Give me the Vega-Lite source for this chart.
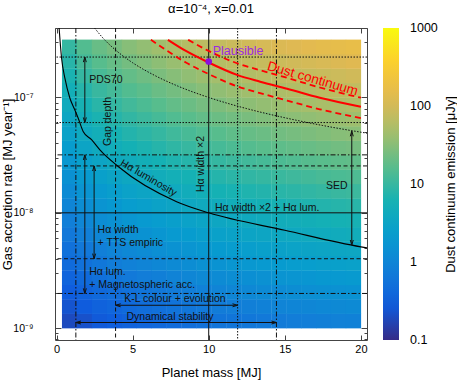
{
"$schema": "https://vega.github.io/schema/vega-lite/v6.json",
"width": 312, "height": 312,
"autosize": "none",
"padding": {"left": 55, "top": 28, "right": 90, "bottom": 46},
"title": {"text": "α=10⁻⁴, x=0.01", "fontSize": 13, "fontWeight": "normal", "font": "Liberation Sans", "offset": 7, "frame": "group", "anchor": "middle", "color": "#000"},
"config": {
  "font": "Liberation Sans",
  "view": {"stroke": "#444", "strokeWidth": 1},
  "axis": {"domain": false, "grid": false, "labelFontSize": 11, "titleFontSize": 13, "titleFontWeight": "normal", "labelColor": "#000", "titleColor": "#000", "tickColor": "#444", "tickWidth": 1, "labelFlush": false, "labelOverlap": false}
},
"datasets": {
"cells": [
{"m":0.86,"r":1.155e-9,"f":-0.72},{"m":0.86,"r":1.54e-9,"f":-0.63},{"m":0.86,"r":2.054e-9,"f":-0.54},{"m":0.86,"r":2.738e-9,"f":-0.45},{"m":0.86,"r":3.652e-9,"f":-0.36},{"m":0.86,"r":4.87e-9,"f":-0.27},{"m":0.86,"r":6.494e-9,"f":-0.18},{"m":0.86,"r":8.66e-9,"f":-0.09},{"m":0.86,"r":1.155e-8,"f":0},{"m":0.86,"r":1.54e-8,"f":0.09},{"m":0.86,"r":2.054e-8,"f":0.18},{"m":0.86,"r":2.738e-8,"f":0.27},{"m":0.86,"r":3.652e-8,"f":0.36},{"m":0.86,"r":4.87e-8,"f":0.45},{"m":0.86,"r":6.494e-8,"f":0.54},{"m":0.86,"r":8.66e-8,"f":0.63},{"m":0.86,"r":1.155e-7,"f":0.72},{"m":0.86,"r":1.54e-7,"f":0.81},{"m":0.86,"r":2.054e-7,"f":0.9},{"m":0.86,"r":2.738e-7,"f":0.99},
{"m":1.84,"r":1.155e-9,"f":-0.66},{"m":1.84,"r":1.54e-9,"f":-0.56},{"m":1.84,"r":2.054e-9,"f":-0.47},{"m":1.84,"r":2.738e-9,"f":-0.37},{"m":1.84,"r":3.652e-9,"f":-0.27},{"m":1.84,"r":4.87e-9,"f":-0.18},{"m":1.84,"r":6.494e-9,"f":-0.08},{"m":1.84,"r":8.66e-9,"f":0.02},{"m":1.84,"r":1.155e-8,"f":0.11},{"m":1.84,"r":1.54e-8,"f":0.21},{"m":1.84,"r":2.054e-8,"f":0.31},{"m":1.84,"r":2.738e-8,"f":0.41},{"m":1.84,"r":3.652e-8,"f":0.5},{"m":1.84,"r":4.87e-8,"f":0.6},{"m":1.84,"r":6.494e-8,"f":0.7},{"m":1.84,"r":8.66e-8,"f":0.79},{"m":1.84,"r":1.155e-7,"f":0.89},{"m":1.84,"r":1.54e-7,"f":0.99},{"m":1.84,"r":2.054e-7,"f":1.09},{"m":1.84,"r":2.738e-7,"f":1.18},
{"m":2.82,"r":1.155e-9,"f":-0.58},{"m":2.82,"r":1.54e-9,"f":-0.48},{"m":2.82,"r":2.054e-9,"f":-0.39},{"m":2.82,"r":2.738e-9,"f":-0.29},{"m":2.82,"r":3.652e-9,"f":-0.19},{"m":2.82,"r":4.87e-9,"f":-0.09},{"m":2.82,"r":6.494e-9,"f":0.01},{"m":2.82,"r":8.66e-9,"f":0.11},{"m":2.82,"r":1.155e-8,"f":0.21},{"m":2.82,"r":1.54e-8,"f":0.31},{"m":2.82,"r":2.054e-8,"f":0.41},{"m":2.82,"r":2.738e-8,"f":0.51},{"m":2.82,"r":3.652e-8,"f":0.61},{"m":2.82,"r":4.87e-8,"f":0.71},{"m":2.82,"r":6.494e-8,"f":0.81},{"m":2.82,"r":8.66e-8,"f":0.91},{"m":2.82,"r":1.155e-7,"f":1.01},{"m":2.82,"r":1.54e-7,"f":1.11},{"m":2.82,"r":2.054e-7,"f":1.21},{"m":2.82,"r":2.738e-7,"f":1.31},
{"m":3.81,"r":1.155e-9,"f":-0.53},{"m":3.81,"r":1.54e-9,"f":-0.43},{"m":3.81,"r":2.054e-9,"f":-0.33},{"m":3.81,"r":2.738e-9,"f":-0.22},{"m":3.81,"r":3.652e-9,"f":-0.12},{"m":3.81,"r":4.87e-9,"f":-0.02},{"m":3.81,"r":6.494e-9,"f":0.08},{"m":3.81,"r":8.66e-9,"f":0.18},{"m":3.81,"r":1.155e-8,"f":0.28},{"m":3.81,"r":1.54e-8,"f":0.38},{"m":3.81,"r":2.054e-8,"f":0.49},{"m":3.81,"r":2.738e-8,"f":0.59},{"m":3.81,"r":3.652e-8,"f":0.69},{"m":3.81,"r":4.87e-8,"f":0.79},{"m":3.81,"r":6.494e-8,"f":0.89},{"m":3.81,"r":8.66e-8,"f":0.99},{"m":3.81,"r":1.155e-7,"f":1.09},{"m":3.81,"r":1.54e-7,"f":1.2},{"m":3.81,"r":2.054e-7,"f":1.3},{"m":3.81,"r":2.738e-7,"f":1.4},
{"m":4.79,"r":1.155e-9,"f":-0.48},{"m":4.79,"r":1.54e-9,"f":-0.37},{"m":4.79,"r":2.054e-9,"f":-0.27},{"m":4.79,"r":2.738e-9,"f":-0.17},{"m":4.79,"r":3.652e-9,"f":-0.06},{"m":4.79,"r":4.87e-9,"f":0.04},{"m":4.79,"r":6.494e-9,"f":0.14},{"m":4.79,"r":8.66e-9,"f":0.25},{"m":4.79,"r":1.155e-8,"f":0.35},{"m":4.79,"r":1.54e-8,"f":0.45},{"m":4.79,"r":2.054e-8,"f":0.56},{"m":4.79,"r":2.738e-8,"f":0.66},{"m":4.79,"r":3.652e-8,"f":0.76},{"m":4.79,"r":4.87e-8,"f":0.87},{"m":4.79,"r":6.494e-8,"f":0.97},{"m":4.79,"r":8.66e-8,"f":1.07},{"m":4.79,"r":1.155e-7,"f":1.18},{"m":4.79,"r":1.54e-7,"f":1.28},{"m":4.79,"r":2.054e-7,"f":1.38},{"m":4.79,"r":2.738e-7,"f":1.49},
{"m":5.77,"r":1.155e-9,"f":-0.44},{"m":5.77,"r":1.54e-9,"f":-0.33},{"m":5.77,"r":2.054e-9,"f":-0.23},{"m":5.77,"r":2.738e-9,"f":-0.12},{"m":5.77,"r":3.652e-9,"f":-0.02},{"m":5.77,"r":4.87e-9,"f":0.09},{"m":5.77,"r":6.494e-9,"f":0.19},{"m":5.77,"r":8.66e-9,"f":0.3},{"m":5.77,"r":1.155e-8,"f":0.4},{"m":5.77,"r":1.54e-8,"f":0.51},{"m":5.77,"r":2.054e-8,"f":0.61},{"m":5.77,"r":2.738e-8,"f":0.72},{"m":5.77,"r":3.652e-8,"f":0.82},{"m":5.77,"r":4.87e-8,"f":0.93},{"m":5.77,"r":6.494e-8,"f":1.03},{"m":5.77,"r":8.66e-8,"f":1.14},{"m":5.77,"r":1.155e-7,"f":1.24},{"m":5.77,"r":1.54e-7,"f":1.35},{"m":5.77,"r":2.054e-7,"f":1.45},{"m":5.77,"r":2.738e-7,"f":1.56},
{"m":6.75,"r":1.155e-9,"f":-0.4},{"m":6.75,"r":1.54e-9,"f":-0.29},{"m":6.75,"r":2.054e-9,"f":-0.18},{"m":6.75,"r":2.738e-9,"f":-0.08},{"m":6.75,"r":3.652e-9,"f":0.03},{"m":6.75,"r":4.87e-9,"f":0.14},{"m":6.75,"r":6.494e-9,"f":0.25},{"m":6.75,"r":8.66e-9,"f":0.35},{"m":6.75,"r":1.155e-8,"f":0.46},{"m":6.75,"r":1.54e-8,"f":0.57},{"m":6.75,"r":2.054e-8,"f":0.67},{"m":6.75,"r":2.738e-8,"f":0.78},{"m":6.75,"r":3.652e-8,"f":0.89},{"m":6.75,"r":4.87e-8,"f":0.99},{"m":6.75,"r":6.494e-8,"f":1.1},{"m":6.75,"r":8.66e-8,"f":1.21},{"m":6.75,"r":1.155e-7,"f":1.32},{"m":6.75,"r":1.54e-7,"f":1.42},{"m":6.75,"r":2.054e-7,"f":1.53},{"m":6.75,"r":2.738e-7,"f":1.64},
{"m":7.73,"r":1.155e-9,"f":-0.36},{"m":7.73,"r":1.54e-9,"f":-0.25},{"m":7.73,"r":2.054e-9,"f":-0.14},{"m":7.73,"r":2.738e-9,"f":-0.03},{"m":7.73,"r":3.652e-9,"f":0.08},{"m":7.73,"r":4.87e-9,"f":0.19},{"m":7.73,"r":6.494e-9,"f":0.3},{"m":7.73,"r":8.66e-9,"f":0.4},{"m":7.73,"r":1.155e-8,"f":0.51},{"m":7.73,"r":1.54e-8,"f":0.62},{"m":7.73,"r":2.054e-8,"f":0.73},{"m":7.73,"r":2.738e-8,"f":0.84},{"m":7.73,"r":3.652e-8,"f":0.95},{"m":7.73,"r":4.87e-8,"f":1.06},{"m":7.73,"r":6.494e-8,"f":1.17},{"m":7.73,"r":8.66e-8,"f":1.28},{"m":7.73,"r":1.155e-7,"f":1.38},{"m":7.73,"r":1.54e-7,"f":1.49},{"m":7.73,"r":2.054e-7,"f":1.6},{"m":7.73,"r":2.738e-7,"f":1.71},
{"m":8.72,"r":1.155e-9,"f":-0.32},{"m":8.72,"r":1.54e-9,"f":-0.21},{"m":8.72,"r":2.054e-9,"f":-0.1},{"m":8.72,"r":2.738e-9,"f":0.01},{"m":8.72,"r":3.652e-9,"f":0.12},{"m":8.72,"r":4.87e-9,"f":0.23},{"m":8.72,"r":6.494e-9,"f":0.34},{"m":8.72,"r":8.66e-9,"f":0.45},{"m":8.72,"r":1.155e-8,"f":0.56},{"m":8.72,"r":1.54e-8,"f":0.67},{"m":8.72,"r":2.054e-8,"f":0.78},{"m":8.72,"r":2.738e-8,"f":0.89},{"m":8.72,"r":3.652e-8,"f":1.0},{"m":8.72,"r":4.87e-8,"f":1.11},{"m":8.72,"r":6.494e-8,"f":1.22},{"m":8.72,"r":8.66e-8,"f":1.33},{"m":8.72,"r":1.155e-7,"f":1.44},{"m":8.72,"r":1.54e-7,"f":1.55},{"m":8.72,"r":2.054e-7,"f":1.66},{"m":8.72,"r":2.738e-7,"f":1.77},
{"m":9.7,"r":1.155e-9,"f":-0.28},{"m":9.7,"r":1.54e-9,"f":-0.17},{"m":9.7,"r":2.054e-9,"f":-0.05},{"m":9.7,"r":2.738e-9,"f":0.06},{"m":9.7,"r":3.652e-9,"f":0.17},{"m":9.7,"r":4.87e-9,"f":0.28},{"m":9.7,"r":6.494e-9,"f":0.39},{"m":9.7,"r":8.66e-9,"f":0.5},{"m":9.7,"r":1.155e-8,"f":0.61},{"m":9.7,"r":1.54e-8,"f":0.72},{"m":9.7,"r":2.054e-8,"f":0.83},{"m":9.7,"r":2.738e-8,"f":0.95},{"m":9.7,"r":3.652e-8,"f":1.06},{"m":9.7,"r":4.87e-8,"f":1.17},{"m":9.7,"r":6.494e-8,"f":1.28},{"m":9.7,"r":8.66e-8,"f":1.39},{"m":9.7,"r":1.155e-7,"f":1.5},{"m":9.7,"r":1.54e-7,"f":1.61},{"m":9.7,"r":2.054e-7,"f":1.72},{"m":9.7,"r":2.738e-7,"f":1.83},
{"m":10.68,"r":1.155e-9,"f":-0.24},{"m":10.68,"r":1.54e-9,"f":-0.13},{"m":10.68,"r":2.054e-9,"f":-0.02},{"m":10.68,"r":2.738e-9,"f":0.09},{"m":10.68,"r":3.652e-9,"f":0.2},{"m":10.68,"r":4.87e-9,"f":0.32},{"m":10.68,"r":6.494e-9,"f":0.43},{"m":10.68,"r":8.66e-9,"f":0.54},{"m":10.68,"r":1.155e-8,"f":0.65},{"m":10.68,"r":1.54e-8,"f":0.77},{"m":10.68,"r":2.054e-8,"f":0.88},{"m":10.68,"r":2.738e-8,"f":0.99},{"m":10.68,"r":3.652e-8,"f":1.1},{"m":10.68,"r":4.87e-8,"f":1.21},{"m":10.68,"r":6.494e-8,"f":1.33},{"m":10.68,"r":8.66e-8,"f":1.44},{"m":10.68,"r":1.155e-7,"f":1.55},{"m":10.68,"r":1.54e-7,"f":1.66},{"m":10.68,"r":2.054e-7,"f":1.78},{"m":10.68,"r":2.738e-7,"f":1.89},
{"m":11.66,"r":1.155e-9,"f":-0.22},{"m":11.66,"r":1.54e-9,"f":-0.1},{"m":11.66,"r":2.054e-9,"f":0.01},{"m":11.66,"r":2.738e-9,"f":0.12},{"m":11.66,"r":3.652e-9,"f":0.24},{"m":11.66,"r":4.87e-9,"f":0.35},{"m":11.66,"r":6.494e-9,"f":0.46},{"m":11.66,"r":8.66e-9,"f":0.58},{"m":11.66,"r":1.155e-8,"f":0.69},{"m":11.66,"r":1.54e-8,"f":0.8},{"m":11.66,"r":2.054e-8,"f":0.92},{"m":11.66,"r":2.738e-8,"f":1.03},{"m":11.66,"r":3.652e-8,"f":1.14},{"m":11.66,"r":4.87e-8,"f":1.26},{"m":11.66,"r":6.494e-8,"f":1.37},{"m":11.66,"r":8.66e-8,"f":1.49},{"m":11.66,"r":1.155e-7,"f":1.6},{"m":11.66,"r":1.54e-7,"f":1.71},{"m":11.66,"r":2.054e-7,"f":1.83},{"m":11.66,"r":2.738e-7,"f":1.94},
{"m":12.64,"r":1.155e-9,"f":-0.19},{"m":12.64,"r":1.54e-9,"f":-0.08},{"m":12.64,"r":2.054e-9,"f":0.04},{"m":12.64,"r":2.738e-9,"f":0.15},{"m":12.64,"r":3.652e-9,"f":0.27},{"m":12.64,"r":4.87e-9,"f":0.38},{"m":12.64,"r":6.494e-9,"f":0.5},{"m":12.64,"r":8.66e-9,"f":0.61},{"m":12.64,"r":1.155e-8,"f":0.73},{"m":12.64,"r":1.54e-8,"f":0.84},{"m":12.64,"r":2.054e-8,"f":0.96},{"m":12.64,"r":2.738e-8,"f":1.07},{"m":12.64,"r":3.652e-8,"f":1.19},{"m":12.64,"r":4.87e-8,"f":1.3},{"m":12.64,"r":6.494e-8,"f":1.41},{"m":12.64,"r":8.66e-8,"f":1.53},{"m":12.64,"r":1.155e-7,"f":1.64},{"m":12.64,"r":1.54e-7,"f":1.76},{"m":12.64,"r":2.054e-7,"f":1.87},{"m":12.64,"r":2.738e-7,"f":1.99},
{"m":13.62,"r":1.155e-9,"f":-0.17},{"m":13.62,"r":1.54e-9,"f":-0.05},{"m":13.62,"r":2.054e-9,"f":0.07},{"m":13.62,"r":2.738e-9,"f":0.18},{"m":13.62,"r":3.652e-9,"f":0.3},{"m":13.62,"r":4.87e-9,"f":0.41},{"m":13.62,"r":6.494e-9,"f":0.53},{"m":13.62,"r":8.66e-9,"f":0.64},{"m":13.62,"r":1.155e-8,"f":0.76},{"m":13.62,"r":1.54e-8,"f":0.87},{"m":13.62,"r":2.054e-8,"f":0.99},{"m":13.62,"r":2.738e-8,"f":1.1},{"m":13.62,"r":3.652e-8,"f":1.22},{"m":13.62,"r":4.87e-8,"f":1.33},{"m":13.62,"r":6.494e-8,"f":1.45},{"m":13.62,"r":8.66e-8,"f":1.57},{"m":13.62,"r":1.155e-7,"f":1.68},{"m":13.62,"r":1.54e-7,"f":1.8},{"m":13.62,"r":2.054e-7,"f":1.91},{"m":13.62,"r":2.738e-7,"f":2.03},
{"m":14.61,"r":1.155e-9,"f":-0.14},{"m":14.61,"r":1.54e-9,"f":-0.02},{"m":14.61,"r":2.054e-9,"f":0.09},{"m":14.61,"r":2.738e-9,"f":0.21},{"m":14.61,"r":3.652e-9,"f":0.32},{"m":14.61,"r":4.87e-9,"f":0.44},{"m":14.61,"r":6.494e-9,"f":0.56},{"m":14.61,"r":8.66e-9,"f":0.67},{"m":14.61,"r":1.155e-8,"f":0.79},{"m":14.61,"r":1.54e-8,"f":0.91},{"m":14.61,"r":2.054e-8,"f":1.02},{"m":14.61,"r":2.738e-8,"f":1.14},{"m":14.61,"r":3.652e-8,"f":1.25},{"m":14.61,"r":4.87e-8,"f":1.37},{"m":14.61,"r":6.494e-8,"f":1.49},{"m":14.61,"r":8.66e-8,"f":1.6},{"m":14.61,"r":1.155e-7,"f":1.72},{"m":14.61,"r":1.54e-7,"f":1.84},{"m":14.61,"r":2.054e-7,"f":1.95},{"m":14.61,"r":2.738e-7,"f":2.07},
{"m":15.59,"r":1.155e-9,"f":-0.12},{"m":15.59,"r":1.54e-9,"f":0},{"m":15.59,"r":2.054e-9,"f":0.11},{"m":15.59,"r":2.738e-9,"f":0.23},{"m":15.59,"r":3.652e-9,"f":0.35},{"m":15.59,"r":4.87e-9,"f":0.47},{"m":15.59,"r":6.494e-9,"f":0.58},{"m":15.59,"r":8.66e-9,"f":0.7},{"m":15.59,"r":1.155e-8,"f":0.82},{"m":15.59,"r":1.54e-8,"f":0.93},{"m":15.59,"r":2.054e-8,"f":1.05},{"m":15.59,"r":2.738e-8,"f":1.17},{"m":15.59,"r":3.652e-8,"f":1.28},{"m":15.59,"r":4.87e-8,"f":1.4},{"m":15.59,"r":6.494e-8,"f":1.52},{"m":15.59,"r":8.66e-8,"f":1.64},{"m":15.59,"r":1.155e-7,"f":1.75},{"m":15.59,"r":1.54e-7,"f":1.87},{"m":15.59,"r":2.054e-7,"f":1.99},{"m":15.59,"r":2.738e-7,"f":2.1},
{"m":16.57,"r":1.155e-9,"f":-0.1},{"m":16.57,"r":1.54e-9,"f":0.02},{"m":16.57,"r":2.054e-9,"f":0.14},{"m":16.57,"r":2.738e-9,"f":0.25},{"m":16.57,"r":3.652e-9,"f":0.37},{"m":16.57,"r":4.87e-9,"f":0.49},{"m":16.57,"r":6.494e-9,"f":0.61},{"m":16.57,"r":8.66e-9,"f":0.72},{"m":16.57,"r":1.155e-8,"f":0.84},{"m":16.57,"r":1.54e-8,"f":0.96},{"m":16.57,"r":2.054e-8,"f":1.08},{"m":16.57,"r":2.738e-8,"f":1.2},{"m":16.57,"r":3.652e-8,"f":1.31},{"m":16.57,"r":4.87e-8,"f":1.43},{"m":16.57,"r":6.494e-8,"f":1.55},{"m":16.57,"r":8.66e-8,"f":1.67},{"m":16.57,"r":1.155e-7,"f":1.78},{"m":16.57,"r":1.54e-7,"f":1.9},{"m":16.57,"r":2.054e-7,"f":2.02},{"m":16.57,"r":2.738e-7,"f":2.14},
{"m":17.55,"r":1.155e-9,"f":-0.08},{"m":17.55,"r":1.54e-9,"f":0.04},{"m":17.55,"r":2.054e-9,"f":0.16},{"m":17.55,"r":2.738e-9,"f":0.28},{"m":17.55,"r":3.652e-9,"f":0.39},{"m":17.55,"r":4.87e-9,"f":0.51},{"m":17.55,"r":6.494e-9,"f":0.63},{"m":17.55,"r":8.66e-9,"f":0.75},{"m":17.55,"r":1.155e-8,"f":0.87},{"m":17.55,"r":1.54e-8,"f":0.99},{"m":17.55,"r":2.054e-8,"f":1.11},{"m":17.55,"r":2.738e-8,"f":1.22},{"m":17.55,"r":3.652e-8,"f":1.34},{"m":17.55,"r":4.87e-8,"f":1.46},{"m":17.55,"r":6.494e-8,"f":1.58},{"m":17.55,"r":8.66e-8,"f":1.7},{"m":17.55,"r":1.155e-7,"f":1.82},{"m":17.55,"r":1.54e-7,"f":1.93},{"m":17.55,"r":2.054e-7,"f":2.05},{"m":17.55,"r":2.738e-7,"f":2.17},
{"m":18.53,"r":1.155e-9,"f":-0.06},{"m":18.53,"r":1.54e-9,"f":0.06},{"m":18.53,"r":2.054e-9,"f":0.17},{"m":18.53,"r":2.738e-9,"f":0.29},{"m":18.53,"r":3.652e-9,"f":0.41},{"m":18.53,"r":4.87e-9,"f":0.53},{"m":18.53,"r":6.494e-9,"f":0.65},{"m":18.53,"r":8.66e-9,"f":0.77},{"m":18.53,"r":1.155e-8,"f":0.89},{"m":18.53,"r":1.54e-8,"f":1.01},{"m":18.53,"r":2.054e-8,"f":1.13},{"m":18.53,"r":2.738e-8,"f":1.25},{"m":18.53,"r":3.652e-8,"f":1.37},{"m":18.53,"r":4.87e-8,"f":1.49},{"m":18.53,"r":6.494e-8,"f":1.6},{"m":18.53,"r":8.66e-8,"f":1.72},{"m":18.53,"r":1.155e-7,"f":1.84},{"m":18.53,"r":1.54e-7,"f":1.96},{"m":18.53,"r":2.054e-7,"f":2.08},{"m":18.53,"r":2.738e-7,"f":2.2},
{"m":19.51,"r":1.155e-9,"f":-0.05},{"m":19.51,"r":1.54e-9,"f":0.07},{"m":19.51,"r":2.054e-9,"f":0.19},{"m":19.51,"r":2.738e-9,"f":0.31},{"m":19.51,"r":3.652e-9,"f":0.43},{"m":19.51,"r":4.87e-9,"f":0.55},{"m":19.51,"r":6.494e-9,"f":0.67},{"m":19.51,"r":8.66e-9,"f":0.79},{"m":19.51,"r":1.155e-8,"f":0.91},{"m":19.51,"r":1.54e-8,"f":1.03},{"m":19.51,"r":2.054e-8,"f":1.15},{"m":19.51,"r":2.738e-8,"f":1.27},{"m":19.51,"r":3.652e-8,"f":1.39},{"m":19.51,"r":4.87e-8,"f":1.51},{"m":19.51,"r":6.494e-8,"f":1.63},{"m":19.51,"r":8.66e-8,"f":1.75},{"m":19.51,"r":1.155e-7,"f":1.87},{"m":19.51,"r":1.54e-7,"f":1.99},{"m":19.51,"r":2.054e-7,"f":2.11},{"m":19.51,"r":2.738e-7,"f":2.23}
],
"hlines": [{"r":2.24e-7,"s":"dot"},{"r":6.06e-8,"s":"dot"},{"r":3.18e-8,"s":"dashdot"},{"r":2.55e-8,"s":"dash"},{"r":1e-8,"s":"solid"},{"r":4e-9,"s":"dash"},{"r":2e-9,"s":"dashdot"}],
"vlines": [{"m":1.27,"s":"dashdot"},{"m":3.88,"s":"dash"},{"m":10,"s":"solid"},{"m":11.9,"s":"dot"},{"m":14.45,"s":"dashdot"}],
"halum": [{"m":0.17,"r":4.0e-7},{"m":0.33,"r":2.2e-7},{"m":0.55,"r":1.47e-7},{"m":0.875,"r":9.9e-8},{"m":1.2,"r":7.82e-8},{"m":1.42,"r":6.63e-8},{"m":1.75,"r":5.07e-8},{"m":2.3,"r":4.3e-8},{"m":2.85,"r":3.51e-8},{"m":4.05,"r":2.52e-8},{"m":7.89,"r":1.25e-8},{"m":10,"r":1.0e-8},{"m":15,"r":7.06e-9},{"m":20,"r":5.07e-9},{"m":20.4,"r":4.97e-9}],
"sedcurve": [{"m":2.5,"r":4.0e-7},{"m":3,"r":3.33e-7},{"m":4,"r":2.5e-7},{"m":5,"r":2.0e-7},{"m":6.5,"r":1.54e-7},{"m":8,"r":1.25e-7},{"m":10,"r":1.0e-7},{"m":12.5,"r":8.0e-8},{"m":15,"r":6.67e-8},{"m":17.5,"r":5.71e-8},{"m":20.4,"r":4.9e-8}],
"dustmid": [{"m":7.32,"r":3.16e-7},{"m":8.5,"r":2.53e-7},{"m":9.89,"r":2.04e-7},{"m":11.86,"r":1.57e-7},{"m":13.38,"r":1.37e-7},{"m":15.15,"r":1.19e-7},{"m":17.3,"r":9.93e-8},{"m":20,"r":8.3e-8}],
"dustband": [{"c":"hi","m":8.65,"r":3.16e-7},{"c":"hi","m":9.89,"r":2.57e-7},{"c":"hi","m":11.86,"r":1.98e-7},{"c":"hi","m":13.38,"r":1.72e-7},{"c":"hi","m":15.15,"r":1.48e-7},{"c":"hi","m":17.3,"r":1.22e-7},{"c":"hi","m":20,"r":9.95e-8},
{"c":"lo","m":6.2,"r":3.16e-7},{"c":"lo","m":7.32,"r":2.51e-7},{"c":"lo","m":8.5,"r":2.01e-7},{"c":"lo","m":9.89,"r":1.62e-7},{"c":"lo","m":11.86,"r":1.25e-7},{"c":"lo","m":13.38,"r":1.09e-7},{"c":"lo","m":15.15,"r":9.4e-8},{"c":"lo","m":17.3,"r":7.9e-8},{"c":"lo","m":20,"r":6.63e-8}],
"shafts": [{"m1":1.86,"m2":1.86,"r1":2.24e-7,"r2":6.06e-8},{"m1":1.86,"m2":1.86,"r1":3.18e-8,"r2":2.0e-9},{"m1":2.47,"m2":2.47,"r1":2.55e-8,"r2":4.0e-9},{"m1":3.88,"m2":11.9,"r1":1.58e-9,"r2":1.58e-9},{"m1":1.27,"m2":14.45,"r1":1.12e-9,"r2":1.12e-9},{"m1":19.4,"m2":19.4,"r1":5.1e-8,"r2":5.25e-9}],
"heads": [{"m":1.86,"r":2.24e-7,"d":"up"},{"m":1.86,"r":6.06e-8,"d":"down"},{"m":1.86,"r":3.18e-8,"d":"up"},{"m":1.86,"r":2.0e-9,"d":"down"},{"m":2.47,"r":2.55e-8,"d":"up"},{"m":2.47,"r":4.0e-9,"d":"down"},{"m":3.88,"r":1.58e-9,"d":"left"},{"m":11.9,"r":1.58e-9,"d":"right"},{"m":1.27,"r":1.12e-9,"d":"left"},{"m":14.45,"r":1.12e-9,"d":"right"},{"m":19.4,"r":5.1e-8,"d":"up"},{"m":19.4,"r":5.25e-9,"d":"down"}],
"notesleft": [{"m":2.15,"r":1.41e-7,"t":"PDS70"},{"m":2.7,"r":7.1e-9,"t":"Hα width"},{"m":2.7,"r":5.45e-9,"t":"+ TTS empiric"},{"m":2.15,"r":3.09e-9,"t":"Hα lum."},{"m":2.15,"r":2.37e-9,"t":"+ Magnetospheric acc."},{"m":4.45,"r":1.78e-9,"t":"K-L colour + evolution"},{"m":4.6,"r":1.26e-9,"t":"Dynamical stability"}],
"notescenter": [{"m":13.84,"r":1.11e-8,"t":"Hα width ×2 + Hα lum."},{"m":18.41,"r":1.71e-8,"t":"SED"}],
"notesvertical": [{"m":3.38,"r":6.19e-8,"t":"Gap depth"},{"m":9.49,"r":2.65e-8,"t":"Hα width ×2"}],
"noteslum": [{"m":6.04,"r":2.0e-8,"t":"Hα luminosity"}],
"notesdust": [{"m":16.83,"r":1.45e-7,"t":"Dust continuum"}],
"plausible": [{"m":10,"r":2.05e-7,"t":"Plausible"}]
},
"layer": [
{
  "data": {"name": "cells"},
  "mark": {"type": "rect", "width": 15.3, "height": 14.8},
  "encoding": {
    "x": {"field": "m", "type": "quantitative", "scale": {"domain": [-0.1, 20.4], "nice": false, "zero": false},
      "axis": {"orient": "bottom", "title": "Planet mass [MJ]", "values": [0, 5, 10, 15, 20], "tickSize": -5, "labelPadding": 8, "titlePadding": 12}},
    "y": {"field": "r", "type": "quantitative", "scale": {"type": "log", "domain": [7.9e-10, 4e-7], "nice": false},
      "axis": {"orient": "left", "title": "Gas accretion rate [MJ year⁻¹]",
        "values": [8e-10, 9e-10, 1e-9, 2e-9, 3e-9, 4e-9, 5e-9, 6e-9, 7e-9, 8e-9, 9e-9, 1e-8, 2e-8, 3e-8, 4e-8, 5e-8, 6e-8, 7e-8, 8e-8, 9e-8, 1e-7, 2e-7, 3e-7, 4e-7],
        "labelExpr": "datum.value == 1e-7 ? '10⁻⁷' : datum.value == 1e-8 ? '10⁻⁸' : datum.value == 1e-9 ? '10⁻⁹' : ''",
        "tickSize": {"condition": {"test": "datum.value == 1e-7 || datum.value == 1e-8 || datum.value == 1e-9", "value": -6}, "value": -3},
        "labelFontSize": 10.5, "labelPadding": 28, "titleX": -48, "titleBaseline": "middle"}},
    "color": {"field": "f", "type": "quantitative",
      "scale": {"domain": [-1.005, -0.5594, -0.1139, 0.3317, 0.7772, 1.2228, 1.6683, 2.1139, 2.5594, 3.005],
        "range": ["#352a87", "#0f5cdd", "#127dd8", "#079ccf", "#15b1b4", "#59bd8c", "#a5be6b", "#e1b952", "#fcce2e", "#f9fb0e"], "interpolate": "rgb"},
      "legend": {"title": null, "orient": "none", "legendX": 328, "legendY": 0, "direction": "vertical", "padding": 0, "gradientLength": 312, "gradientThickness": 16, "gradientStrokeWidth": 0,
        "values": [-1, 0, 1, 2, 3], "labelExpr": "format(pow(10, datum.value), '~g')", "labelFontSize": 12.5, "labelOffset": 11, "labelBaseline": "middle", "labelOverlap": false, "labelColor": "#000"}}
  }
},
{
  "data": {"name": "hlines"},
  "mark": {"type": "rule", "color": "#111", "strokeWidth": 1},
  "encoding": {
    "y": {"field": "r", "type": "quantitative", "scale": {"type": "log", "domain": [7.9e-10, 4e-7], "nice": false}, "axis": null},
    "strokeDash": {"field": "s", "type": "nominal", "scale": {"domain": ["solid", "dot", "dash", "dashdot"], "range": [[1, 0], [1.5, 1.5], [4, 2.5], [5, 2, 1.5, 2]]}, "legend": null}
  }
},
{
  "data": {"name": "vlines"},
  "mark": {"type": "rule", "color": "#111", "strokeWidth": 1},
  "encoding": {
    "x": {"field": "m", "type": "quantitative", "scale": {"domain": [-0.1, 20.4], "nice": false, "zero": false}, "axis": null},
    "strokeDash": {"field": "s", "type": "nominal", "scale": {"domain": ["solid", "dot", "dash", "dashdot"], "range": [[1, 0], [1.5, 1.5], [4, 2.5], [5, 2, 1.5, 2]]}, "legend": null}
  }
},
{
  "data": {"name": "halum"},
  "mark": {"type": "line", "color": "#000", "strokeWidth": 1.1, "interpolate": "monotone", "clip": true},
  "encoding": {
    "x": {"field": "m", "type": "quantitative", "scale": {"domain": [-0.1, 20.4], "nice": false, "zero": false}, "axis": null},
    "y": {"field": "r", "type": "quantitative", "scale": {"type": "log", "domain": [7.9e-10, 4e-7], "nice": false}, "axis": null}
  }
},
{
  "data": {"name": "sedcurve"},
  "mark": {"type": "line", "color": "#111", "strokeWidth": 1, "strokeDash": [1.5, 1.5], "interpolate": "monotone", "clip": true},
  "encoding": {
    "x": {"field": "m", "type": "quantitative", "scale": {"domain": [-0.1, 20.4], "nice": false, "zero": false}, "axis": null},
    "y": {"field": "r", "type": "quantitative", "scale": {"type": "log", "domain": [7.9e-10, 4e-7], "nice": false}, "axis": null}
  }
},
{
  "data": {"name": "dustmid"},
  "mark": {"type": "line", "color": "#ff0000", "strokeWidth": 2, "interpolate": "monotone"},
  "encoding": {
    "x": {"field": "m", "type": "quantitative", "scale": {"domain": [-0.1, 20.4], "nice": false, "zero": false}, "axis": null},
    "y": {"field": "r", "type": "quantitative", "scale": {"type": "log", "domain": [7.9e-10, 4e-7], "nice": false}, "axis": null}
  }
},
{
  "data": {"name": "dustband"},
  "mark": {"type": "line", "color": "#ff0000", "strokeWidth": 1.8, "strokeDash": [6, 4], "interpolate": "monotone"},
  "encoding": {
    "x": {"field": "m", "type": "quantitative", "scale": {"domain": [-0.1, 20.4], "nice": false, "zero": false}, "axis": null},
    "y": {"field": "r", "type": "quantitative", "scale": {"type": "log", "domain": [7.9e-10, 4e-7], "nice": false}, "axis": null},
    "detail": {"field": "c", "type": "nominal"}
  }
},
{
  "data": {"name": "shafts"},
  "mark": {"type": "rule", "color": "#111", "strokeWidth": 1},
  "encoding": {
    "x": {"field": "m1", "type": "quantitative", "scale": {"domain": [-0.1, 20.4], "nice": false, "zero": false}, "axis": null},
    "x2": {"field": "m2"},
    "y": {"field": "r1", "type": "quantitative", "scale": {"type": "log", "domain": [7.9e-10, 4e-7], "nice": false}, "axis": null},
    "y2": {"field": "r2"}
  }
},
{
  "data": {"name": "heads"},
  "mark": {"type": "point", "filled": false, "color": "#111", "strokeWidth": 1, "size": 36, "opacity": 1},
  "encoding": {
    "x": {"field": "m", "type": "quantitative", "scale": {"domain": [-0.1, 20.4], "nice": false, "zero": false}, "axis": null},
    "y": {"field": "r", "type": "quantitative", "scale": {"type": "log", "domain": [7.9e-10, 4e-7], "nice": false}, "axis": null},
    "shape": {"field": "d", "type": "nominal", "scale": {"domain": ["up", "down", "left", "right"], "range": ["M-0.5,1.7L0,0L0.5,1.7", "M-0.5,-1.7L0,0L0.5,-1.7", "M1.7,-0.5L0,0L1.7,0.5", "M-1.7,-0.5L0,0L-1.7,0.5"]}, "legend": null}
  }
},
{
  "data": {"name": "notesleft"},
  "mark": {"type": "text", "align": "left", "baseline": "middle", "fontSize": 10.5, "color": "#111"},
  "encoding": {
    "x": {"field": "m", "type": "quantitative", "scale": {"domain": [-0.1, 20.4], "nice": false, "zero": false}, "axis": null},
    "y": {"field": "r", "type": "quantitative", "scale": {"type": "log", "domain": [7.9e-10, 4e-7], "nice": false}, "axis": null},
    "text": {"field": "t"}
  }
},
{
  "data": {"name": "notescenter"},
  "mark": {"type": "text", "align": "center", "baseline": "middle", "fontSize": 10.5, "color": "#111"},
  "encoding": {
    "x": {"field": "m", "type": "quantitative", "scale": {"domain": [-0.1, 20.4], "nice": false, "zero": false}, "axis": null},
    "y": {"field": "r", "type": "quantitative", "scale": {"type": "log", "domain": [7.9e-10, 4e-7], "nice": false}, "axis": null},
    "text": {"field": "t"}
  }
},
{
  "data": {"name": "notesvertical"},
  "mark": {"type": "text", "align": "center", "baseline": "middle", "fontSize": 10.5, "color": "#111", "angle": 270},
  "encoding": {
    "x": {"field": "m", "type": "quantitative", "scale": {"domain": [-0.1, 20.4], "nice": false, "zero": false}, "axis": null},
    "y": {"field": "r", "type": "quantitative", "scale": {"type": "log", "domain": [7.9e-10, 4e-7], "nice": false}, "axis": null},
    "text": {"field": "t"}
  }
},
{
  "data": {"name": "noteslum"},
  "mark": {"type": "text", "align": "center", "baseline": "middle", "fontSize": 10.5, "color": "#111", "angle": 30},
  "encoding": {
    "x": {"field": "m", "type": "quantitative", "scale": {"domain": [-0.1, 20.4], "nice": false, "zero": false}, "axis": null},
    "y": {"field": "r", "type": "quantitative", "scale": {"type": "log", "domain": [7.9e-10, 4e-7], "nice": false}, "axis": null},
    "text": {"field": "t"}
  }
},
{
  "data": {"name": "notesdust"},
  "mark": {"type": "text", "align": "center", "baseline": "middle", "fontSize": 13.5, "color": "#ff0000", "angle": 16},
  "encoding": {
    "x": {"field": "m", "type": "quantitative", "scale": {"domain": [-0.1, 20.4], "nice": false, "zero": false}, "axis": null},
    "y": {"field": "r", "type": "quantitative", "scale": {"type": "log", "domain": [7.9e-10, 4e-7], "nice": false}, "axis": null},
    "text": {"field": "t"}
  }
},
{
  "data": {"name": "plausible"},
  "mark": {"type": "text", "align": "left", "baseline": "middle", "fontSize": 12.5, "color": "#9a2be2", "dx": 4, "dy": -10},
  "encoding": {
    "x": {"field": "m", "type": "quantitative", "scale": {"domain": [-0.1, 20.4], "nice": false, "zero": false}, "axis": null},
    "y": {"field": "r", "type": "quantitative", "scale": {"type": "log", "domain": [7.9e-10, 4e-7], "nice": false}, "axis": null},
    "text": {"field": "t"}
  }
},
{
  "data": {"name": "plausible"},
  "mark": {"type": "point", "filled": true, "color": "#8a10dd", "size": 45, "opacity": 1},
  "encoding": {
    "x": {"field": "m", "type": "quantitative", "scale": {"domain": [-0.1, 20.4], "nice": false, "zero": false},
      "axis": {"orient": "top", "values": [0, 5, 10, 15, 20], "labels": false, "title": null, "tickSize": -5}},
    "y": {"field": "r", "type": "quantitative", "scale": {"type": "log", "domain": [7.9e-10, 4e-7], "nice": false},
      "axis": {"orient": "right", "labels": false, "title": "Dust continuum emission [μJy]", "titleAngle": 270, "titleX": 83, "titleBaseline": "middle", "titleFontSize": 13,
        "values": [8e-10, 9e-10, 1e-9, 2e-9, 3e-9, 4e-9, 5e-9, 6e-9, 7e-9, 8e-9, 9e-9, 1e-8, 2e-8, 3e-8, 4e-8, 5e-8, 6e-8, 7e-8, 8e-8, 9e-8, 1e-7, 2e-7, 3e-7, 4e-7],
        "tickSize": {"condition": {"test": "datum.value == 1e-7 || datum.value == 1e-8 || datum.value == 1e-9", "value": -6}, "value": -3}}}
  }
}
],
"resolve": {"axis": {"x": "independent", "y": "independent"}}
}
